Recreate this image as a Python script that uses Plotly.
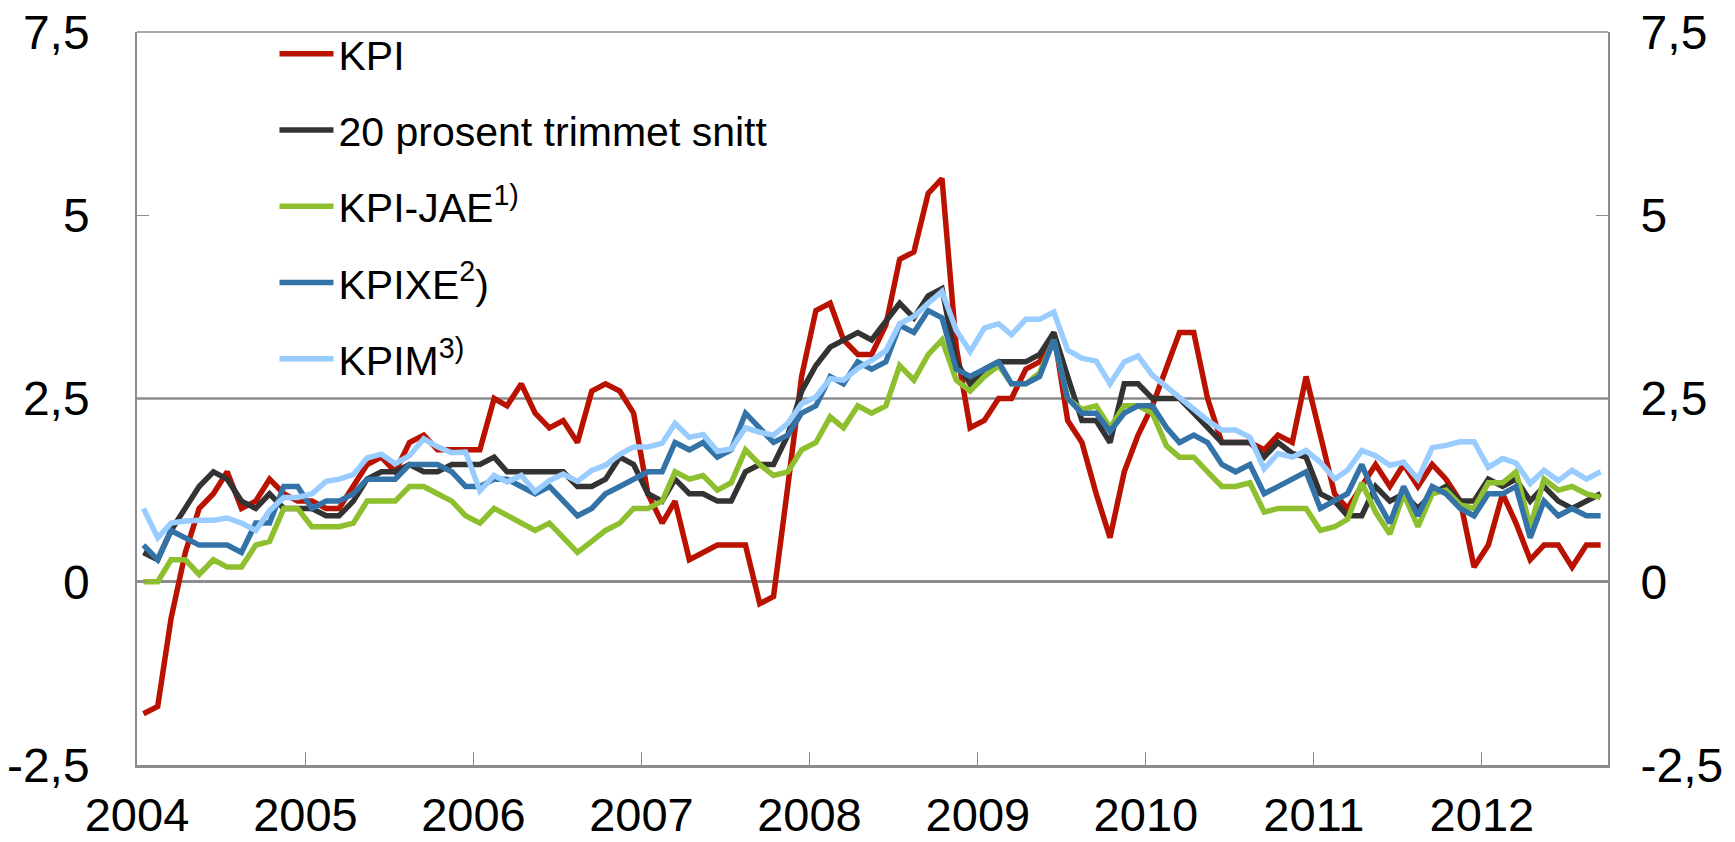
import pandas as pd
import plotly.graph_objects as go

# ---- data (12-month change, per cent), monthly Jan 2004 - Sep 2012 ----
months = pd.date_range("2004-01-01", periods=105, freq="MS") + pd.Timedelta(days=14)

kpi = [-1.8, -1.7, -0.5, 0.4, 1.0, 1.2, 1.5, 1.0, 1.1, 1.4, 1.2, 1.1,
       1.1, 1.0, 1.0, 1.3, 1.6, 1.7, 1.5, 1.9, 2.0, 1.8, 1.8, 1.8,
       1.8, 2.5, 2.4, 2.7, 2.3, 2.1, 2.2, 1.9, 2.6, 2.7, 2.6, 2.3,
       1.2, 0.8, 1.1, 0.3, 0.4, 0.5, 0.5, 0.5, -0.3, -0.2, 1.3, 2.8,
       3.7, 3.8, 3.3, 3.1, 3.1, 3.5, 4.4, 4.5, 5.3, 5.5, 3.2, 2.1,
       2.2, 2.5, 2.5, 2.9, 3.0, 3.4, 2.2, 1.9, 1.2, 0.6, 1.5, 2.0,
       2.4, 2.9, 3.4, 3.4, 2.5, 1.9, 1.9, 1.9, 1.8, 2.0, 1.9, 2.8,
       2.0, 1.2, 1.0, 1.3, 1.6, 1.3, 1.6, 1.3, 1.6, 1.4, 1.1, 0.2,
       0.5, 1.2, 0.8, 0.3, 0.5, 0.5, 0.2, 0.5, 0.5]

trimmet = [0.4, 0.3, 0.7, 1.0, 1.3, 1.5, 1.4, 1.1, 1.0, 1.2, 1.0, 1.0,
           1.0, 0.9, 0.9, 1.1, 1.4, 1.5, 1.5, 1.6, 1.5, 1.5, 1.6, 1.6,
           1.6, 1.7, 1.5, 1.5, 1.5, 1.5, 1.5, 1.3, 1.3, 1.4, 1.7, 1.6,
           1.2, 1.1, 1.4, 1.2, 1.2, 1.1, 1.1, 1.5, 1.6, 1.6, 2.0, 2.6,
           2.95, 3.2, 3.3, 3.4, 3.3, 3.55, 3.8, 3.6, 3.9, 4.0, 3.0, 2.7,
           2.9, 3.0, 3.0, 3.0, 3.1, 3.4, 2.8, 2.2, 2.2, 1.9, 2.7, 2.7,
           2.5, 2.5, 2.5, 2.3, 2.1, 1.9, 1.9, 1.9, 1.7, 1.9, 1.75, 1.7,
           1.2, 1.1, 0.9, 0.9, 1.3, 1.1, 1.2, 1.0, 1.2, 1.3, 1.1, 1.1,
           1.4, 1.3, 1.4, 1.1, 1.3, 1.1, 1.0, 1.1, 1.2]

kpi_jae = [0.0, 0.0, 0.3, 0.3, 0.1, 0.3, 0.2, 0.2, 0.5, 0.55, 1.0, 1.0,
           0.75, 0.75, 0.75, 0.8, 1.1, 1.1, 1.1, 1.3, 1.3, 1.2, 1.1, 0.9,
           0.8, 1.0, 0.9, 0.8, 0.7, 0.8, 0.6, 0.4, 0.55, 0.7, 0.8, 1.0,
           1.0, 1.1, 1.5, 1.4, 1.45, 1.25, 1.35, 1.8, 1.6, 1.45, 1.5, 1.8,
           1.9, 2.25, 2.1, 2.4, 2.3, 2.4, 2.95, 2.75, 3.1, 3.3, 2.75, 2.6,
           2.8, 2.95, 2.7, 2.7, 2.85, 3.3, 2.5, 2.35, 2.4, 2.1, 2.4, 2.4,
           2.3, 1.85, 1.7, 1.7, 1.5, 1.3, 1.3, 1.35, 0.95, 1.0, 1.0, 1.0,
           0.7, 0.75, 0.85, 1.35, 0.95, 0.65, 1.2, 0.75, 1.2, 1.25, 1.05, 1.0,
           1.35, 1.35, 1.5, 0.75, 1.4, 1.25, 1.3, 1.2, 1.15]

kpixe = [0.5, 0.3, 0.7, 0.6, 0.5, 0.5, 0.5, 0.4, 0.8, 0.8, 1.3, 1.3,
         1.0, 1.1, 1.1, 1.2, 1.4, 1.4, 1.4, 1.6, 1.6, 1.6, 1.5, 1.3,
         1.3, 1.4, 1.4, 1.3, 1.2, 1.3, 1.1, 0.9, 1.0, 1.2, 1.3, 1.4,
         1.5, 1.5, 1.9, 1.8, 1.9, 1.7, 1.8, 2.3, 2.1, 1.9, 2.0, 2.3,
         2.4, 2.8, 2.7, 3.0, 2.9, 3.0, 3.5, 3.4, 3.7, 3.6, 2.9, 2.8,
         2.9, 3.0, 2.7, 2.7, 2.8, 3.3, 2.5, 2.3, 2.3, 2.05, 2.3, 2.4,
         2.4, 2.1, 1.9, 2.0, 1.9, 1.6, 1.5, 1.6, 1.2, 1.3, 1.4, 1.5,
         1.0, 1.1, 1.2, 1.6, 1.15, 0.8, 1.3, 0.9, 1.3, 1.2, 1.0, 0.9,
         1.2, 1.2, 1.3, 0.6, 1.1, 0.9, 1.0, 0.9, 0.9]

kpim = [1.0, 0.6, 0.8, 0.83, 0.84, 0.84, 0.87, 0.8, 0.7, 0.97, 1.15, 1.15,
        1.2, 1.37, 1.4, 1.46, 1.69, 1.74, 1.61, 1.72, 1.95, 1.84, 1.76, 1.77,
        1.24, 1.45, 1.36, 1.45, 1.23, 1.38, 1.47, 1.37, 1.52, 1.59, 1.74, 1.84,
        1.84, 1.89, 2.16, 1.97, 2.01, 1.78, 1.81, 2.1, 2.04, 2.0, 2.16, 2.43,
        2.52, 2.77, 2.75, 2.91, 3.02, 3.15, 3.52, 3.62, 3.8, 3.96, 3.43, 3.14,
        3.46, 3.52, 3.37, 3.58, 3.58, 3.68, 3.16, 3.05, 3.01, 2.7, 3.0, 3.08,
        2.82, 2.66, 2.5, 2.34, 2.2, 2.07, 2.07, 1.97, 1.54, 1.75, 1.7, 1.79,
        1.63, 1.4, 1.52, 1.79, 1.72, 1.59, 1.63, 1.4, 1.83, 1.86, 1.91, 1.91,
        1.56, 1.68, 1.62, 1.34, 1.52, 1.38, 1.52, 1.4, 1.5]

series_names = ["KPI", "20 prosent trimmet snitt", "KPI-JAE<sup>1)</sup>",
                "KPIXE<sup>2</sup>)", "KPIM<sup>3)</sup>"]
series_values = [kpi, trimmet, kpi_jae, kpixe, kpim]
series_colors = ["#B91200", "#333333", "#8DBF2E", "#3473A8", "#99CCFF"]

inflasjonsmaal = 2.5
year_ticks = [str(y) for y in range(2004, 2013)]
y_tickvals = [-2.5, 0, 2.5, 5, 7.5]
y_ticktext = ["-2,5", "0", "2,5", "5", "7,5"]

FONT = "Liberation Sans, Arial, sans-serif"
GRAY = "#8C8C8C"

fig = go.Figure()
for name, vals, col in zip(series_names, series_values, series_colors):
    fig.add_trace(go.Scatter(x=months, y=vals, name=name, mode="lines",
                             legendgroup=name,
                             line=dict(color=col, width=5.5)))

# invisible trace to carry the right-hand axis
fig.add_trace(go.Scatter(x=months[:1], y=[0], yaxis="y2", showlegend=False,
                         mode="markers", marker=dict(opacity=0),
                         hoverinfo="skip"))

fig.add_hline(y=inflasjonsmaal, line=dict(color=GRAY, width=2.5), layer="below")
fig.add_shape(type="line", xref="paper", yref="paper", x0=0, x1=1, y0=1, y1=1,
              line=dict(color=GRAY, width=1.5))

# the page body adds an 8 px offset, so the figure is 8 px smaller each way
fig.update_layout(
    width=1727, height=834,
    margin=dict(l=129, r=127, t=24, b=77, autoexpand=False),
    paper_bgcolor="white", plot_bgcolor="white",
    font=dict(family=FONT, color="black", size=47),
    showlegend=True,
    legend=dict(xref="container", yref="container",
                x=0.1543, y=0.985, xanchor="left", yanchor="top",
                font=dict(family=FONT, size=41, color="black"),
                traceorder="grouped", tracegroupgap=20,
                bgcolor="rgba(0,0,0,0)", itemwidth=54),
    xaxis=dict(
        type="date",
        range=["2004-01-01", "2012-10-01"],
        tickvals=[f"{y}-01-01" for y in year_ticks],
        ticktext=year_ticks,
        ticks="inside", ticklen=13, tickcolor=GRAY, tickwidth=1.2,
        showline=True, linecolor=GRAY, linewidth=3,
        showgrid=False, zeroline=False, automargin=False,
        tickfont=dict(size=47, family=FONT),
        ticklabelstandoff=7, ticklabeloverflow="allow",
    ),
    yaxis=dict(
        range=[-2.5, 7.5],
        tickvals=y_tickvals, ticktext=y_ticktext,
        ticks="inside", ticklen=12, tickcolor=GRAY, tickwidth=1.2,
        showline=True, linecolor=GRAY, linewidth=1.5,
        showgrid=False, automargin=False,
        zeroline=True, zerolinecolor=GRAY, zerolinewidth=2.5,
        tickfont=dict(size=48, family=FONT),
        ticklabelstandoff=36, ticklabeloverflow="allow",
    ),
    yaxis2=dict(
        overlaying="y", side="right", anchor="x",
        range=[-2.5, 7.5],
        tickvals=y_tickvals, ticktext=y_ticktext,
        ticks="inside", ticklen=12, tickcolor=GRAY, tickwidth=1.2,
        showline=True, linecolor=GRAY, linewidth=2,
        showgrid=False, zeroline=False, automargin=False,
        tickfont=dict(size=48, family=FONT),
        ticklabelstandoff=21, ticklabeloverflow="allow",
    ),
)

fig.write_html("out.html")
